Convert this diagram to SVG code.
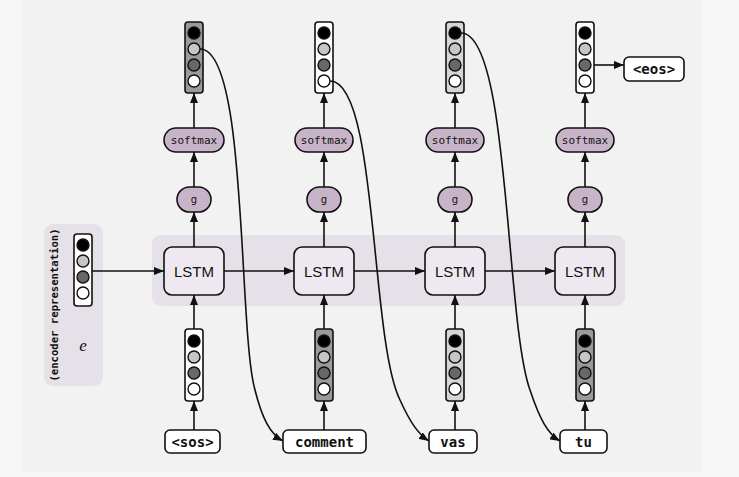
<svg xmlns="http://www.w3.org/2000/svg" width="739" height="477" viewBox="0 0 739 477">
<style>
.box{stroke:#111;stroke-width:1.6}
.lstm{fill:#eee9f0}
.pill{fill:#c8b4c8}
.word{fill:#fff}
.edge{fill:none;stroke:#111;stroke-width:1.6}
.lstmt{font-family:"Liberation Sans",Arial,sans-serif;font-size:15px;fill:#111;text-anchor:middle}
.mono{font-family:"DejaVu Sans Mono","Liberation Mono",monospace;fill:#111;text-anchor:middle}
.sm{font-size:11px}
.wt{font-size:14px;font-weight:bold}
.gt{font-family:"DejaVu Sans","Liberation Sans",sans-serif;font-size:10px;fill:#111;text-anchor:middle}
.vr{stroke:#111;stroke-width:1.6}
.c{stroke:#111;stroke-width:1.4}
</style>
<defs>
<marker id="ah" markerUnits="userSpaceOnUse" markerWidth="10" markerHeight="8" refX="10" refY="4" orient="auto">
<path d="M0,0 L10,4 L0,8 z" fill="#111"/>
</marker>
<g id="dots">
<circle class="c" cx="0" cy="11" r="6" fill="#000"/>
<circle class="c" cx="0" cy="27" r="6" fill="#c6c6c6"/>
<circle class="c" cx="0" cy="43" r="6" fill="#686868"/>
<circle class="c" cx="0" cy="59" r="6" fill="#fff"/>
</g>
</defs>
<rect x="0" y="0" width="739" height="477" fill="#f6f6f6"/>
<rect x="22" y="0" width="680" height="472" fill="#f2f2f2"/>
<rect x="152" y="235" width="473" height="71" rx="9" fill="#e6e1e8"/>
<g id="encoder">
<rect x="44" y="224" width="59" height="162" rx="9" fill="#e6e1e8"/>
<text class="mono" font-size="10.6px" font-weight="bold" transform="translate(58,305) rotate(-90)">(encoder representation)</text>
<text x="83" y="351" font-family="'Liberation Serif','DejaVu Serif',serif" font-style="italic" font-size="17px" fill="#111" text-anchor="middle">e</text>
<rect class="vr" x="74" y="234" width="18" height="72" rx="3" fill="#fff"/>
<use href="#dots" x="83" y="234"/>
</g>
<g id="lstm1"><rect class="box lstm" x="164" y="247" width="60" height="48" rx="8"/><text class="lstmt" x="194" y="276.5">LSTM</text></g>
<g id="lstm2"><rect class="box lstm" x="294" y="247" width="60" height="48" rx="8"/><text class="lstmt" x="324" y="276.5">LSTM</text></g>
<g id="lstm3"><rect class="box lstm" x="425" y="247" width="60" height="48" rx="8"/><text class="lstmt" x="455" y="276.5">LSTM</text></g>
<g id="lstm4"><rect class="box lstm" x="555" y="247" width="60" height="48" rx="8"/><text class="lstmt" x="585" y="276.5">LSTM</text></g>
<g id="g1"><rect class="box pill" x="177" y="187" width="34" height="25" rx="12.5"/><text class="gt" x="194" y="203">g</text></g>
<g id="g2"><rect class="box pill" x="307" y="187" width="34" height="25" rx="12.5"/><text class="gt" x="324" y="203">g</text></g>
<g id="g3"><rect class="box pill" x="438" y="187" width="34" height="25" rx="12.5"/><text class="gt" x="455" y="203">g</text></g>
<g id="g4"><rect class="box pill" x="568" y="187" width="34" height="25" rx="12.5"/><text class="gt" x="585" y="203">g</text></g>
<g id="softmax1"><rect class="box pill" x="164" y="128" width="60" height="24" rx="12"/><text class="mono sm" x="194" y="144">softmax</text></g>
<g id="softmax2"><rect class="box pill" x="295" y="128" width="58" height="24" rx="12"/><text class="mono sm" x="324" y="144">softmax</text></g>
<g id="softmax3"><rect class="box pill" x="426" y="128" width="58" height="24" rx="12"/><text class="mono sm" x="455" y="144">softmax</text></g>
<g id="softmax4"><rect class="box pill" x="556" y="128" width="58" height="24" rx="12"/><text class="mono sm" x="585" y="144">softmax</text></g>
<g id="out1"><rect class="vr" x="185" y="22" width="18" height="71" rx="3" fill="#9a9a9a"/><use href="#dots" x="194" y="22"/></g>
<g id="out2"><rect class="vr" x="315" y="22" width="18" height="71" rx="3" fill="#fff"/><use href="#dots" x="324" y="22"/></g>
<g id="out3"><rect class="vr" x="446" y="22" width="18" height="71" rx="3" fill="#d6d6d6"/><use href="#dots" x="455" y="22"/></g>
<g id="out4"><rect class="vr" x="576" y="22" width="18" height="71" rx="3" fill="#fff"/><use href="#dots" x="585" y="22"/></g>
<g id="in1"><rect class="vr" x="185" y="329" width="18" height="72" rx="3" fill="#fff"/><use href="#dots" x="194" y="330"/></g>
<g id="in2"><rect class="vr" x="315" y="329" width="18" height="72" rx="3" fill="#9a9a9a"/><use href="#dots" x="324" y="330"/></g>
<g id="in3"><rect class="vr" x="446" y="329" width="18" height="72" rx="3" fill="#d6d6d6"/><use href="#dots" x="455" y="330"/></g>
<g id="in4"><rect class="vr" x="576" y="329" width="18" height="72" rx="3" fill="#9a9a9a"/><use href="#dots" x="585" y="330"/></g>
<g id="w_sos"><rect class="box word" x="165" y="430" width="55" height="23" rx="5"/><text class="mono wt" x="192.5" y="446.5">&lt;sos&gt;</text></g>
<g id="w_comment"><rect class="box word" x="283" y="430" width="83" height="23" rx="5"/><text class="mono wt" x="324.5" y="446.5">comment</text></g>
<g id="w_vas"><rect class="box word" x="429" y="430" width="48" height="23" rx="5"/><text class="mono wt" x="453" y="446.5">vas</text></g>
<g id="w_tu"><rect class="box word" x="560" y="430" width="47" height="23" rx="5"/><text class="mono wt" x="583.5" y="446.5">tu</text></g>
<g id="w_eos"><rect class="box word" x="624" y="57" width="60" height="24" rx="5"/><text class="mono wt" x="654" y="74">&lt;eos&gt;</text></g>
<g id="connectors">
<line class="edge" x1="92" y1="271" x2="164" y2="271" marker-end="url(#ah)"/>
<line class="edge" x1="224" y1="271" x2="294" y2="271" marker-end="url(#ah)"/>
<line class="edge" x1="354" y1="271" x2="425" y2="271" marker-end="url(#ah)"/>
<line class="edge" x1="485" y1="271" x2="555" y2="271" marker-end="url(#ah)"/>
<line class="edge" x1="194" y1="247" x2="194" y2="212" marker-end="url(#ah)"/>
<line class="edge" x1="324" y1="247" x2="324" y2="212" marker-end="url(#ah)"/>
<line class="edge" x1="455" y1="247" x2="455" y2="212" marker-end="url(#ah)"/>
<line class="edge" x1="585" y1="247" x2="585" y2="212" marker-end="url(#ah)"/>
<line class="edge" x1="194" y1="187" x2="194" y2="152" marker-end="url(#ah)"/>
<line class="edge" x1="324" y1="187" x2="324" y2="152" marker-end="url(#ah)"/>
<line class="edge" x1="455" y1="187" x2="455" y2="152" marker-end="url(#ah)"/>
<line class="edge" x1="585" y1="187" x2="585" y2="152" marker-end="url(#ah)"/>
<line class="edge" x1="194" y1="128" x2="194" y2="93" marker-end="url(#ah)"/>
<line class="edge" x1="324" y1="128" x2="324" y2="93" marker-end="url(#ah)"/>
<line class="edge" x1="455" y1="128" x2="455" y2="93" marker-end="url(#ah)"/>
<line class="edge" x1="585" y1="128" x2="585" y2="93" marker-end="url(#ah)"/>
<line class="edge" x1="194" y1="329" x2="194" y2="295" marker-end="url(#ah)"/>
<line class="edge" x1="324" y1="329" x2="324" y2="295" marker-end="url(#ah)"/>
<line class="edge" x1="455" y1="329" x2="455" y2="295" marker-end="url(#ah)"/>
<line class="edge" x1="585" y1="329" x2="585" y2="295" marker-end="url(#ah)"/>
<line class="edge" x1="194" y1="430" x2="194" y2="401" marker-end="url(#ah)"/>
<line class="edge" x1="324" y1="430" x2="324" y2="401" marker-end="url(#ah)"/>
<line class="edge" x1="455" y1="430" x2="455" y2="401" marker-end="url(#ah)"/>
<line class="edge" x1="585" y1="430" x2="585" y2="401" marker-end="url(#ah)"/>
<line class="edge" x1="594" y1="65" x2="624" y2="65" marker-end="url(#ah)"/>
<path class="edge" d="M200,49 C248,49 238,330 255,390 C262,418 270,434 283,441" marker-end="url(#ah)"/>
<path class="edge" d="M330,81 C378,81 370,340 400,400 C410,422 418,434 429,441" marker-end="url(#ah)"/>
<path class="edge" d="M461,33 C510,33 505,320 530,390 C540,420 548,434 560,441" marker-end="url(#ah)"/>
</g>
</svg>
